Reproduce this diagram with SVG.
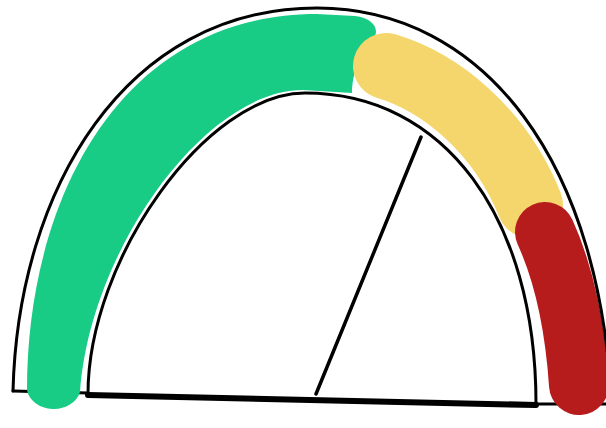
<svg xmlns="http://www.w3.org/2000/svg" width="606" height="428" viewBox="0 0 606 428">
<style>
.ln{fill:none;stroke:#000;stroke-linecap:round;stroke-linejoin:round}
.band{fill:none;stroke-linecap:round}
</style>
<rect width="606" height="428" fill="#fff"/>
<g id="baseline">
<path class="ln" stroke-width="3" d="M13,391 L88,393"/>
<path class="ln" stroke-width="3" d="M536,404 L612,404"/>
<path class="ln" stroke-width="6" d="M88,395 L536,405"/>
</g>
<g id="band-green"><path fill="#18CC86" d="M27,390 C27,200 120,14 317,14 L355,16 C372,18 380,28 374,38 C360,50 352,75 352,93 L303,90 C205,90 90,250 80,392 A27,22 0 0 1 27,390 Z"/></g>
<g id="band-yellow"><path class="band" stroke="#F5D66C" stroke-width="66" d="M386,66 C440,82 500,130 530,205"/></g>
<g id="band-red"><path class="band" stroke="#B71C1C" stroke-width="60" d="M545,232 C560,265 574,310 579,385"/></g>
<g id="frame">
<path class="ln" stroke-width="3" d="M13,391 C18,190 125,8 317,8 C482,8 605,160 612,420"/>
<path class="ln" stroke-width="3" d="M88,394 C88,259 207,93 305,93 C444,93 536,217 536,404"/>
</g>
<g id="connectors">
<path class="ln" stroke-width="3.5" d="M316,394 L421,137"/>
</g>
</svg>
